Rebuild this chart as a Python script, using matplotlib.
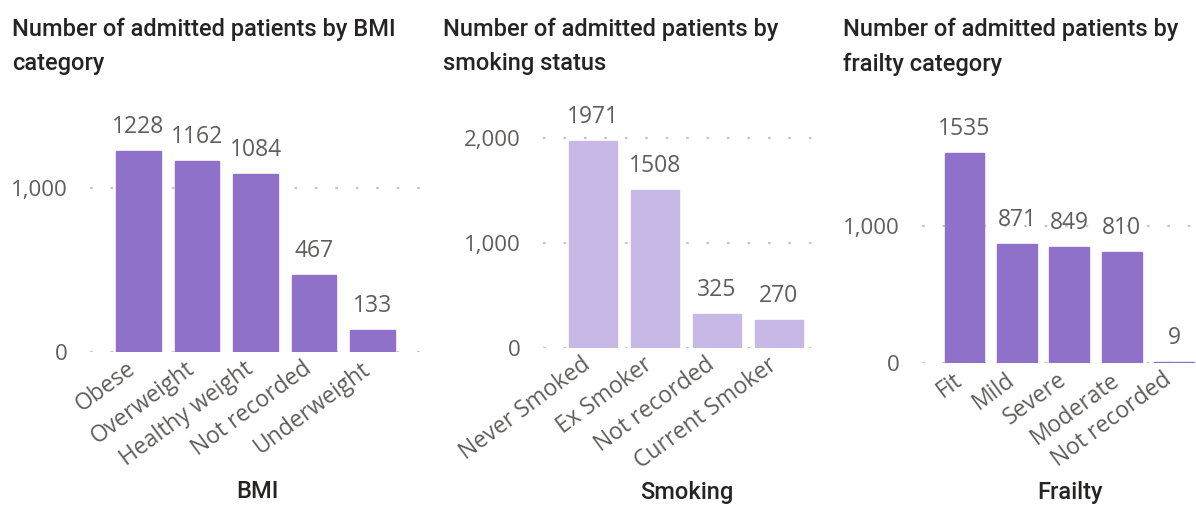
import matplotlib
matplotlib.use("Agg")
import matplotlib.pyplot as plt
import matplotlib.transforms as mtransforms

# ---- data ----
bmi_categories = ["Obese", "Overweight", "Healthy weight", "Not recorded", "Underweight"]
bmi_values = [1228, 1162, 1084, 467, 133]

smoking_categories = ["Never Smoked", "Ex Smoker", "Not recorded", "Current Smoker"]
smoking_values = [1971, 1508, 325, 270]

frailty_categories = ["Fit", "Mild", "Severe", "Moderate", "Not recorded"]
frailty_values = [1535, 871, 849, 810, 9]

titles = ["Number of admitted patients by BMI\ncategory",
          "Number of admitted patients by\nsmoking status",
          "Number of admitted patients by\nfrailty category"]
axis_titles = ["BMI", "Smoking", "Frailty"]
bmi_ticks = [0, 1000]
smoking_ticks = [0, 1000, 2000]
frailty_ticks = [0, 1000]

# ---- style ----
W, H = 1196, 505
DPI = 100
purple = "#8F71CA"
light_purple = "#C8B8E6"
title_color = "#252423"
label_color = "#605E5C"
grid_color = "#C8C6C4"
body_font = ["Open Sans", "DejaVu Sans"]
title_font = ["Roboto", "DejaVu Sans"]

fig = plt.figure(figsize=(W / DPI, H / DPI), dpi=DPI)
fig.patch.set_facecolor("white")

panels = [
    dict(cats=bmi_categories, vals=bmi_values, ticks=bmi_ticks, color=purple,
         left=90, right=420, zero=352, scale=0.164, c0=138.5, sp=58.5, ymax=1400,
         title_x=12, axis_title_x=257),
    dict(cats=smoking_categories, vals=smoking_values, ticks=smoking_ticks, color=light_purple,
         left=543, right=820, zero=348, scale=0.105, c0=593, sp=62, ymax=2150,
         title_x=443, axis_title_x=687),
    dict(cats=frailty_categories, vals=frailty_values, ticks=frailty_ticks, color=purple,
         left=922, right=1196, zero=363, scale=0.137, c0=964.5, sp=52.4, ymax=1750,
         title_x=843, axis_title_x=1070),
]

label_shift = mtransforms.ScaledTranslation(-5 / DPI, 2 / DPI, fig.dpi_scale_trans)

for i, p in enumerate(panels):
    height_px = p["ymax"] * p["scale"]
    ax = fig.add_axes([p["left"] / W, (H - p["zero"]) / H,
                       (p["right"] - p["left"]) / W, height_px / H])
    n = len(p["cats"])
    xs = list(range(n))
    xmin = (p["left"] - p["c0"]) / p["sp"]
    xmax = (p["right"] - p["c0"]) / p["sp"]
    ax.set_xlim(xmin, xmax)
    ax.set_ylim(0, p["ymax"])
    ax.bar(xs, p["vals"], width=0.76, color=p["color"], edgecolor=p["color"],
           linewidth=1.0, zorder=3)
    for x, v in zip(xs, p["vals"]):
        ax.annotate(str(v), xy=(x, v), xytext=(0, 13), textcoords="offset points",
                    ha="center", va="baseline", fontsize=16.5, color=label_color,
                    family=body_font)
    ax.set_yticks(p["ticks"])
    ax.set_yticklabels([f"{t:,}" for t in p["ticks"]], family=body_font,
                       fontsize=16, color=label_color)
    ax.tick_params(axis="y", length=0, pad=16)
    ax.set_xticks(xs)
    ax.set_xticklabels(p["cats"], rotation=36.5, ha="right", va="center",
                       rotation_mode="anchor", family=body_font, fontsize=16.5,
                       color=label_color)
    ax.tick_params(axis="x", length=0, pad=12)
    for lbl in ax.get_xticklabels():
        lbl.set_transform(lbl.get_transform() + label_shift)
    ax.grid(axis="y", color=grid_color, linestyle=(0, (1.2, 8)), linewidth=1.6, zorder=0)
    for s in ax.spines.values():
        s.set_visible(False)
    ax.set_facecolor("none")

    fig.text(p["title_x"] / W, 1 - 18 / H, titles[i], ha="left", va="top",
             fontsize=17, color=title_color, family=title_font, fontweight="medium",
             linespacing=1.6)
    fig.text(p["axis_title_x"] / W, 1 - 492 / H, axis_titles[i], ha="center", va="center",
             fontsize=17, color=title_color, family=title_font, fontweight="medium")

fig.savefig("out.png", dpi=DPI, facecolor="white")
